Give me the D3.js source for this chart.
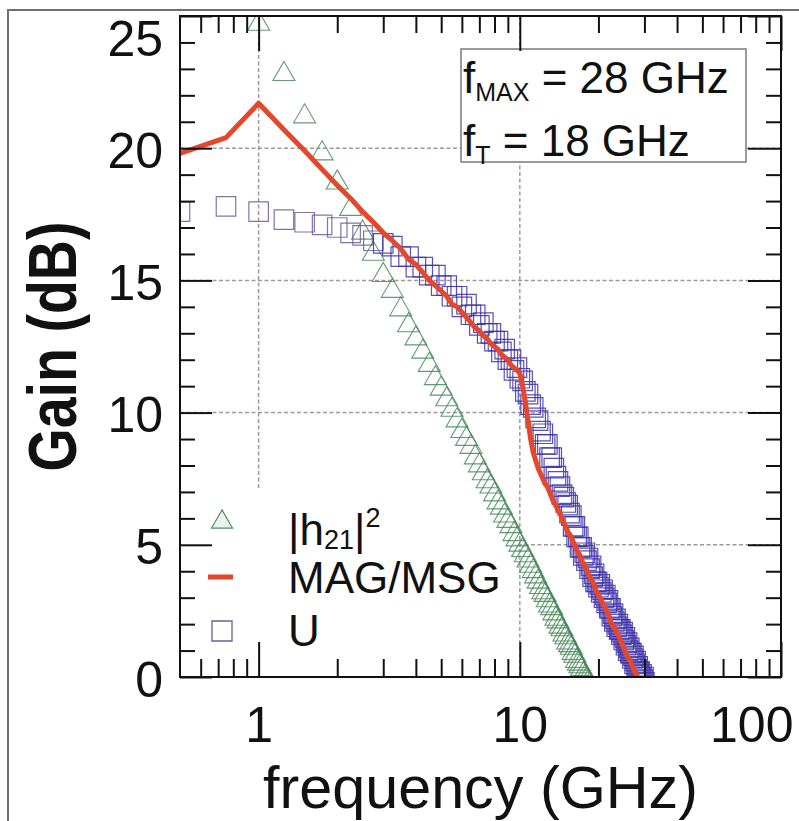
<!DOCTYPE html>
<html><head><meta charset="utf-8">
<script src="https://cdn.jsdelivr.net/npm/d3@7"></script>
<style>body{margin:0;background:#fff}svg{display:block}</style>
</head><body><svg id="c" width="799" height="821"></svg>
<script>
// ---------------- data ----------------
const freq = [0.5,0.75,1,1.25,1.5,1.75,2,2.25,2.5,2.75,3,3.25,3.5,3.75,4,4.25,4.5,4.75,5,5.25,5.5,5.75,6,6.25,6.5,6.75,7,7.25,7.5,7.75,8,8.25,8.5,8.75,9,9.25,9.5,9.75,10,
10.25,10.5,10.75,11,11.25,11.5,11.75,12,12.25,12.5,12.75,13,13.25,13.5,13.75,14,14.25,14.5,14.75,15,15.25,15.5,15.75,16,16.25,16.5,16.75,17,17.25,17.5,17.75,18,18.25,18.5,18.75,19,19.25,19.5,19.75,20,
20.25,20.5,20.75,21,21.25,21.5,21.75,22,22.25,22.5,22.75,23,23.25,23.5,23.75,24,24.25,24.5,24.75,25,25.25,25.5,25.75,26,26.25,26.5,26.75,27,27.25,27.5,27.75,28,28.25,28.5,28.75,29,29.25,29.5,29.75,30];
const h21 = [30.7,27.2,24.7,22.8,21.2,19.8,18.7,17.7,16.8,16.0,15.2,14.6,13.9,13.3,12.8,12.3,11.8,11.3,10.9,10.5,10.1,9.7,9.3,9.0,8.7,8.3,8.0,7.7,7.4,7.2,6.9,6.6,6.4,6.1,5.9,5.7,5.4,5.2,5.0,
4.8,4.6,4.4,4.2,4.0,3.8,3.6,3.4,3.2,3.1,2.9,2.7,2.6,2.4,2.2,2.1,1.9,1.8,1.6,1.5,1.3,1.2,1.1,0.9,0.8,0.6,0.5,0.4,0.3,0.1,0.0,-0.1,-0.2,-0.3,-0.5,-0.6,-0.7,-0.8,-0.9,-1.0,
-1.1,-1.2,-1.3,-1.4,-1.5,-1.6,-1.7,-1.8,-1.9,-2.0,-2.1,-2.2,-2.3,-2.4,-2.5,-2.6,-2.7,-2.8,-2.9,-3.0,-3.0,-3.1,-3.2,-3.3,-3.4,-3.5,-3.5,-3.6,-3.7,-3.8,-3.9,-3.9,-4.0,-4.1,-4.2,-4.2,-4.3,-4.4,-4.5,-4.5];
const magMsg = [19.8,20.4,21.7,20.7,19.9,19.2,18.6,18.1,17.6,17.2,16.8,16.5,16.2,15.8,15.6,15.3,15.0,14.8,14.6,14.4,14.1,14.0,13.8,13.6,13.4,13.2,13.1,12.9,12.8,12.6,12.5,12.4,12.2,12.1,12.0,11.8,11.7,11.6,11.5,
11.0,10.4,9.7,9.0,8.5,8.2,7.9,7.7,7.5,7.3,7.2,7.0,6.8,6.6,6.5,6.3,6.2,6.0,5.8,5.7,5.5,5.4,5.3,5.1,5.0,4.8,4.7,4.6,4.4,4.3,4.2,4.1,3.9,3.8,3.7,3.6,3.5,3.3,3.2,3.1,
3.0,2.9,2.8,2.7,2.6,2.5,2.4,2.3,2.1,2.0,1.9,1.9,1.8,1.7,1.6,1.5,1.4,1.3,1.2,1.1,1.0,0.9,0.8,0.7,0.7,0.6,0.5,0.4,0.3,0.2,0.2,0.1,0.0,-0.1,-0.2,-0.2,-0.3,-0.4,-0.5,-0.5];
const uGain = [17.6,17.8,17.6,17.3,17.2,17.1,17.0,16.8,16.7,16.5,16.4,16.3,15.9,15.9,15.5,15.5,15.2,15.2,14.8,14.8,14.4,14.4,14.0,14.1,13.7,13.7,13.3,13.4,13.0,13.0,12.7,12.7,12.3,12.4,12.0,12.0,11.6,11.7,11.3,
11.2,10.8,10.7,10.3,10.2,9.8,9.7,9.3,9.2,8.8,8.8,8.3,8.3,7.9,7.6,7.4,7.2,6.9,6.8,6.6,6.5,6.2,6.1,5.7,5.7,5.3,5.3,4.9,4.9,4.6,4.7,4.4,4.5,4.1,4.2,3.8,3.9,3.6,3.6,3.4,
3.5,3.2,3.3,3.0,3.1,2.8,2.9,2.6,2.6,2.3,2.4,2.1,2.2,1.9,2.0,1.8,1.8,1.6,1.7,1.4,1.5,1.2,1.3,1.0,1.1,0.9,0.9,0.7,0.8,0.5,0.6,0.3,0.4,0.2,0.2,0.0,0.1,-0.1,0.0,-0.2];

const yMajor = [0,5,10,15,20,25];
const yMinor = [1,2,3,4,6,7,8,9,11,12,13,14,16,17,18,19,21,22,23,24];
const xMajor = [1,10,100];
const xMinor = [0.6,0.7,0.8,0.9,2,3,4,5,6,7,8,9,20,30,40,50,60,70,80,90];
const yGrid = [5,10,15,20];
const xGrid = [1,10];
const seriesNames = ["|h21|2","MAG/MSG","U"];

// ---------------- layout ----------------
const L=180, R=781, T=16, B=677;
const FONT = "'Liberation Sans', Arial, Helvetica, sans-serif";
const svg = d3.select('#c');
const x = d3.scaleLog().domain([0.5,100]).range([L,R]);
const y = d3.scaleLinear().domain([0,25]).range([B,T]);

// outer figure frame
svg.append('rect').attr('x',8).attr('y',10).attr('width',900).attr('height',900)
  .attr('fill','#fff').attr('stroke','#6f6f6f').attr('stroke-width',2);

svg.append('defs').append('clipPath').attr('id','clip')
  .append('rect').attr('x',L).attr('y',T).attr('width',R-L).attr('height',B-T);

// grid
const grid = svg.append('g').attr('stroke','#a3969a').attr('stroke-width',1.5).attr('stroke-dasharray','4,2.5');
grid.selectAll('line.h').data(yGrid).join('line').attr('class','h')
  .attr('x1',L).attr('x2',R).attr('y1',d=>y(d)).attr('y2',d=>y(d));
grid.selectAll('line.v').data(xGrid).join('line').attr('class','v')
  .attr('x1',d=>x(d)).attr('x2',d=>x(d)).attr('y1',T).attr('y2',B);

// annotation box
svg.append('rect').attr('x',461).attr('y',49).attr('width',285).attr('height',113)
  .attr('fill','#fff').attr('stroke','#7a7a7a').attr('stroke-width',1.5);
const ann = svg.append('g').attr('font-family',FONT).attr('fill','#111');
function annLine(sub, rest, yy){
  const t = ann.append('text').attr('x',463).attr('y',yy).attr('font-size',44);
  t.append('tspan').text('f');
  t.append('tspan').attr('font-size',25).attr('dy',8).text(sub);
  t.append('tspan').attr('dy',-8).text(rest);
}
annLine('MAX',' = 28 GHz',93);
annLine('T',' = 18 GHz',156);

// legend background
svg.append('rect').attr('x',L+2).attr('y',490).attr('width',333).attr('height',B-490-2).attr('fill','#fff');

// data
const plot = svg.append('g').attr('clip-path','url(#clip)');
const pts = freq.map((f,i)=>({f, h:h21[i], m:magMsg[i], u:uGain[i]}));
const tri = d3.symbol(d3.symbolTriangle, 210)();
const sq = d3.symbol(d3.symbolSquare, 380)();
plot.append('g').selectAll('path').data(pts).join('path')
  .attr('d',tri).attr('transform',d=>`translate(${x(d.f)},${y(d.h)})`)
  .attr('fill','none').attr('stroke','#478a58').attr('stroke-width',1.1).attr('stroke-opacity',0.85);
plot.append('g').selectAll('path').data(pts).join('path')
  .attr('d',sq).attr('transform',d=>`translate(${x(d.f)},${y(d.u)})`)
  .attr('fill','none').attr('stroke',d=>d.f<3?'#6a5c9c':'#3d33aa').attr('stroke-width',1.2).attr('stroke-opacity',0.85);
plot.append('path').datum(pts)
  .attr('d',d3.line().x(d=>x(d.f)).y(d=>y(d.m)))
  .attr('fill','none').attr('stroke','#e5472d').attr('stroke-width',5).attr('stroke-linejoin','round');

// axes
function styleAxis(g){
  g.select('.domain').remove();
  g.selectAll('line').attr('stroke','#111').attr('stroke-width',2);
  g.attr('font-family',FONT).attr('font-size',50);
  g.selectAll('text').attr('fill','#111');
}
const gB = svg.append('g').attr('transform',`translate(0,${B})`)
  .call(d3.axisBottom(x).tickValues(xMajor).tickSizeInner(-35).tickSizeOuter(0).tickPadding(29.5).tickFormat(d3.format('d')));
styleAxis(gB);
gB.selectAll('.tick text').filter(d=>d===100).attr('text-anchor','end').attr('x',12);
const gBm = svg.append('g').attr('transform',`translate(0,${B})`)
  .call(d3.axisBottom(x).tickValues(xMinor).tickSizeInner(-18).tickSizeOuter(0).tickFormat(''));
styleAxis(gBm);
const gT = svg.append('g').attr('transform',`translate(0,${T})`)
  .call(d3.axisTop(x).tickValues(xMajor).tickSizeInner(-35).tickSizeOuter(0).tickFormat(''));
styleAxis(gT);
const gTm = svg.append('g').attr('transform',`translate(0,${T})`)
  .call(d3.axisTop(x).tickValues(xMinor).tickSizeInner(-17).tickSizeOuter(0).tickFormat(''));
styleAxis(gTm);
const gL = svg.append('g').attr('transform',`translate(${L},0)`)
  .call(d3.axisLeft(y).tickValues(yMajor).tickSizeInner(-32).tickSizeOuter(0).tickPadding(17).tickFormat(d3.format('d')));
styleAxis(gL);
gL.selectAll('.tick text').attr('dy','0.38em');
gL.selectAll('.tick text').filter(d=>d===25).attr('y',20);
const gLm = svg.append('g').attr('transform',`translate(${L},0)`)
  .call(d3.axisLeft(y).tickValues(yMinor).tickSizeInner(-15).tickSizeOuter(0).tickFormat(''));
styleAxis(gLm);
const gR = svg.append('g').attr('transform',`translate(${R},0)`)
  .call(d3.axisRight(y).tickValues(yMajor).tickSizeInner(-33).tickSizeOuter(0).tickFormat(''));
styleAxis(gR);
const gRm = svg.append('g').attr('transform',`translate(${R},0)`)
  .call(d3.axisRight(y).tickValues(yMinor).tickSizeInner(-15).tickSizeOuter(0).tickFormat(''));
styleAxis(gRm);

// plot frame
svg.append('rect').attr('x',L).attr('y',T).attr('width',R-L).attr('height',B-T)
  .attr('fill','none').attr('stroke','#111').attr('stroke-width',2);

// axis titles
svg.append('text').attr('x',(L+R)/2).attr('y',808).attr('text-anchor','middle')
  .attr('font-family',FONT).attr('font-size',59).attr('fill','#111')
  .attr('textLength',435).attr('lengthAdjust','spacingAndGlyphs')
  .text('frequency (GHz)');
svg.append('text').attr('transform',`translate(76,${(T+B)/2}) rotate(-90)`).attr('text-anchor','middle')
  .attr('font-family',FONT).attr('font-size',68).attr('font-weight','bold').attr('fill','#111')
  .attr('textLength',250).attr('lengthAdjust','spacingAndGlyphs')
  .text('Gain (dB)');

// legend
const lg = svg.append('g').attr('font-family',FONT).attr('fill','#111');
lg.append('path').attr('d',d3.symbol(d3.symbolTriangle,190)()).attr('transform','translate(222,522)')
  .attr('fill','#e8f3ea').attr('stroke','#4d8f5f').attr('stroke-width',1.2);
lg.append('line').attr('x1',208).attr('x2',233).attr('y1',577).attr('y2',577)
  .attr('stroke','#e5472d').attr('stroke-width',5);
lg.append('path').attr('d',d3.symbol(d3.symbolSquare,400)()).attr('transform','translate(222,631)')
  .attr('fill','#fff').attr('stroke','#6b5d9e').attr('stroke-width',1.3);
const t1 = lg.append('text').attr('x',288).attr('y',545).attr('font-size',44);
t1.append('tspan').text('|h');
t1.append('tspan').attr('font-size',27).attr('dy',4).text('21');
t1.append('tspan').attr('dy',-4).text('|');
t1.append('tspan').attr('font-size',27).attr('dy',-18).text('2');
lg.append('text').attr('x',288).attr('y',593).attr('font-size',44).text(seriesNames[1]);
lg.append('text').attr('x',288).attr('y',646).attr('font-size',44).text(seriesNames[2]);
</script>
</body></html>
